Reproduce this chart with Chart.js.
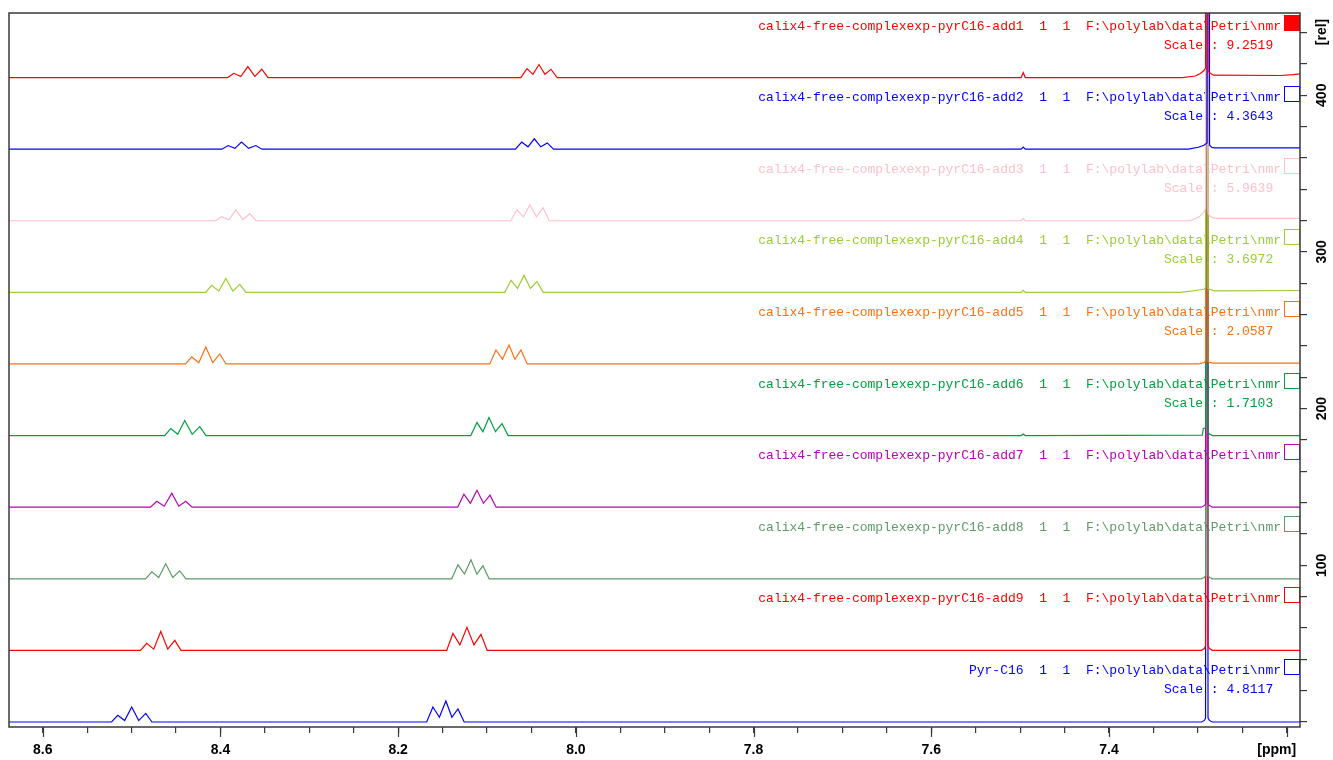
<!DOCTYPE html>
<html>
<head>
<meta charset="utf-8">
<script src="https://cdn.jsdelivr.net/npm/chart.js@4.4.0/dist/chart.umd.min.js"></script>
<style>
  html, body { margin: 0; padding: 0; background: #fff; }
  canvas { display: block; }
</style>
</head>
<body>
<canvas id="nmr" width="1333" height="760"></canvas>
<script>
// stacked 1H spectra, top to bottom. points are [ppm, rel]
const names = [
  'calix4-free-complexexp-pyrC16-add1', 'calix4-free-complexexp-pyrC16-add2',
  'calix4-free-complexexp-pyrC16-add3', 'calix4-free-complexexp-pyrC16-add4',
  'calix4-free-complexexp-pyrC16-add5', 'calix4-free-complexexp-pyrC16-add6',
  'calix4-free-complexexp-pyrC16-add7', 'calix4-free-complexexp-pyrC16-add8',
  'calix4-free-complexexp-pyrC16-add9', 'Pyr-C16'
];
const scaleText = ['9.2519', '4.3643', '5.9639', '3.6972', '2.0587', '1.7103', '', '', '', '4.8117'];
const colors = ['#ff0000', '#0000ff', '#ffc0cb', '#9acd32', '#ff7010', '#00a040', '#b800b8', '#5f9a6a', '#ff0000', '#0000ff'];

const add1 = [
  [8.65, 0],
  [8.3920, 0], [8.3850, 2.7], [8.3771, 0.6], [8.3692, 7.0], [8.3613, 0.8], [8.3535, 5.3], [8.3465, 0],
  [8.0620, 0], [8.0550, 5.7], [8.0483, 2.0], [8.0415, 8.3], [8.0348, 2.0], [8.0280, 5.3], [8.0210, 0],
  [7.4988, 0], [7.4965, 3.2], [7.4942, 0],
  [7.3174, 0], [7.3028, 1.0], [7.2971, 2.6], [7.2932, 4.5], [7.2913, 6.0], [7.2898, 1000], [7.2885, 4.0],
  [7.2865, 3.0], [7.2825, 1.5], [7.2071, 1.3], [7.1924, 1.9], [7.18, 2.6]
];
const add2 = [
  [8.65, 0],
  [8.3984, 0], [8.3914, 2.3], [8.3838, 0.5], [8.3763, 4.5], [8.3683, 0.5], [8.3602, 2.3], [8.3532, 0],
  [8.0680, 0], [8.0610, 4.5], [8.0539, 1.5], [8.0468, 6.6], [8.0395, 1.5], [8.0322, 4.0], [8.0252, 0],
  [7.4988, 0], [7.4965, 1.3], [7.4942, 0],
  [7.3107, 0], [7.2994, 1.2], [7.2932, 2.5], [7.2896, 4.0], [7.2881, 1000], [7.2868, 2.5],
  [7.2845, 1.2], [7.2814, 0.8], [7.18, 0.8]
];
const add3 = [
  [8.65, 0],
  [8.4055, 0], [8.3985, 2.6], [8.3906, 0.6], [8.3827, 7.0], [8.3748, 0.8], [8.3670, 4.5], [8.3600, 0],
  [8.0733, 0], [8.0663, 7.0], [8.0590, 2.5], [8.0517, 10.2], [8.0444, 2.5], [8.0370, 8.3], [8.0300, 0],
  [7.4988, 0], [7.4965, 1.5], [7.4942, 0],
  [7.3084, 0], [7.2983, 2.5], [7.2926, 6.0], [7.2913, 8.0], [7.2898, 1000], [7.2885, 5.0],
  [7.2865, 3.0], [7.2814, 1.5], [7.18, 1.5]
];
const add4 = [
  [8.65, 0],
  [8.4168, 0], [8.4098, 4.5], [8.4019, 0.8], [8.3940, 8.9], [8.3861, 0.8], [8.3782, 5.1], [8.3712, 0],
  [8.0800, 0], [8.0730, 7.7], [8.0657, 2.5], [8.0584, 10.8], [8.0511, 2.5], [8.0438, 7.0], [8.0368, 0],
  [7.4988, 0], [7.4965, 1.3], [7.4942, 0],
  [7.3197, 0], [7.3028, 1.2], [7.2932, 2.0], [7.2913, 3.0], [7.2898, 1000], [7.2885, 2.5],
  [7.2865, 1.8], [7.2814, 1.0], [7.18, 1.2]
];
const add5 = [
  [8.65, 0],
  [8.4393, 0], [8.4323, 4.5], [8.4244, 0.8], [8.4165, 10.8], [8.4087, 0.8], [8.4008, 6.4], [8.3938, 0],
  [8.0969, 0], [8.0899, 8.9], [8.0826, 3.0], [8.0753, 12.1], [8.0686, 3.0], [8.0618, 8.9], [8.0548, 0],
  [7.2994, 0], [7.2926, 1.0], [7.2913, 2.0], [7.2898, 1000], [7.2885, 1.8], [7.2870, 1.0],
  [7.2825, 0.5], [7.18, 0.6]
];
const add6 = [
  [8.65, 0],
  [8.4629, 0], [8.4559, 4.5], [8.4481, 0.8], [8.4402, 9.6], [8.4318, 0.8], [8.4233, 5.7], [8.4163, 0],
  [8.1183, 0], [8.1113, 8.3], [8.1046, 2.5], [8.0978, 11.5], [8.0905, 2.5], [8.0832, 7.7], [8.0762, 0],
  [7.4988, 0], [7.4965, 1.0], [7.4942, 0],
  [7.2949, 0.3], [7.2938, 4.5], [7.2913, 5.0], [7.2898, 1000], [7.2885, 2.0], [7.2870, 1.0],
  [7.2836, 0], [7.18, 0]
];
const add7 = [
  [8.65, 0],
  [8.4787, 0], [8.4717, 3.8], [8.4633, 0.6], [8.4548, 8.9], [8.4469, 0.6], [8.4390, 3.8], [8.4320, 0],
  [8.1330, 0], [8.1260, 8.3], [8.1187, 2.5], [8.1113, 10.8], [8.1040, 2.5], [8.0967, 7.7], [8.0897, 0],
  [7.2960, 0], [7.2926, 1.0], [7.2913, 2.0], [7.2898, 1000], [7.2885, 2.0], [7.2870, 1.0], [7.2836, 0], [7.18, 0]
];
const add8 = [
  [8.65, 0],
  [8.4843, 0], [8.4773, 4.5], [8.4695, 0.8], [8.4616, 9.6], [8.4537, 0.8], [8.4458, 5.1], [8.4388, 0],
  [8.1397, 0], [8.1327, 8.9], [8.1254, 3.0], [8.1181, 12.1], [8.1114, 3.0], [8.1046, 8.3], [8.0976, 0],
  [7.2960, 0], [7.2926, 1.0], [7.2913, 2.0], [7.2898, 1000], [7.2885, 2.0], [7.2870, 1.0], [7.2836, 0], [7.18, 0]
];
const add9 = [
  [8.65, 0],
  [8.4900, 0], [8.4830, 4.5], [8.4751, 0.8], [8.4672, 12.1], [8.4593, 0.8], [8.4514, 6.4], [8.4444, 0],
  [8.1454, 0], [8.1384, 10.8], [8.1305, 3.5], [8.1226, 14.7], [8.1147, 3.5], [8.1068, 10.2], [8.0998, 0],
  [7.2960, 0], [7.2926, 1.2], [7.2913, 3.0], [7.2898, 1000], [7.2885, 3.0], [7.2870, 1.2], [7.2836, 0], [7.18, 0]
];
const pyrC16 = [
  [8.65, 0],
  [8.5226, 0], [8.5156, 4.3], [8.5078, 0.9], [8.4999, 9.6], [8.4920, 0.9], [8.4841, 5.5], [8.4771, 0],
  [8.1679, 0], [8.1609, 9.6], [8.1536, 3.0], [8.1463, 13.4], [8.1395, 3.0], [8.1327, 8.3], [8.1257, 0],
  [7.2960, 0], [7.2926, 1.0], [7.2913, 2.5], [7.2898, 1000], [7.2885, 2.5], [7.2870, 1.0], [7.2836, 0], [7.18, 0]
];
const spectra = [add1, add2, add3, add4, add5, add6, add7, add8, add9, pyrC16];

const ppmRange = [7.185, 8.638];
const relRange = [-3.2, 452.5];
const relLabels = [100, 200, 300, 400];
const stackStep = 45.7; // vertical offset between stacked spectra

const n = spectra.length;
const baseOf = i => (n - 1 - i) * stackStep;

const datasets = spectra.map((pts, i) => ({
  label: names[i],
  data: pts.map(([x, y]) => ({ x, y: y + baseOf(i) })),
  borderColor: colors[i],
  borderWidth: 1.2,
  pointRadius: 0,
  showLine: true,
  tension: 0
}));

const isMajor = v => Math.abs(v * 5 - Math.round(v * 5)) < 1e-6;

const decor = {
  id: 'decor',
  beforeDatasetsDraw(chart) {
    const { ctx, scales: { y } } = chart;
    ctx.save();
    ctx.font = '13px "Liberation Mono", "DejaVu Sans Mono", monospace';
    ctx.textBaseline = 'middle';
    names.forEach((name, i) => {
      const b = Math.round(y.getPixelForValue(baseOf(i)));
      ctx.fillStyle = colors[i];
      ctx.strokeStyle = colors[i];
      ctx.textAlign = 'right';
      ctx.fillText(name + '  1  1  F:\\polylab\\data\\Petri\\nmr', 1281, b - 51);
      if (scaleText[i]) {
        ctx.textAlign = 'left';
        ctx.fillText('Scale : ' + scaleText[i], 1164, b - 32);
      }
      ctx.lineWidth = 1;
      if (i === 0) ctx.fillRect(1284, b - 63, 16, 16);
      else ctx.strokeRect(1284.5, b - 62.5, 15, 15);
    });
    ctx.restore();
  },
  afterDraw(chart) {
    const { ctx, chartArea: a, scales: { x, y } } = chart;
    ctx.save();
    ctx.strokeStyle = '#3a3a3a';
    ctx.lineWidth = 1.5;
    ctx.strokeRect(a.left, a.top, a.right - a.left, a.bottom - a.top);
    // longer marks on the labelled ppm ticks
    ctx.lineWidth = 1.2;
    ctx.beginPath();
    x.ticks.forEach(t => {
      if (!isMajor(t.value)) return;
      const px = Math.round(x.getPixelForValue(t.value)) + 0.5;
      ctx.moveTo(px, a.bottom);
      ctx.lineTo(px, a.bottom + 10);
    });
    ctx.stroke();
    ctx.fillStyle = '#000';
    ctx.font = 'bold 14px "Liberation Sans", Arial, sans-serif';
    ctx.textAlign = 'center';
    ctx.textBaseline = 'middle';
    ctx.fillText('[ppm]', x.getPixelForValue(7.2) - 10, 750);
    relLabels.forEach(v => {
      ctx.save();
      ctx.translate(1322, y.getPixelForValue(v));
      ctx.rotate(-Math.PI / 2);
      ctx.fillText(String(v), 0, 0);
      ctx.restore();
    });
    ctx.save();
    ctx.translate(1322, 32);
    ctx.rotate(-Math.PI / 2);
    ctx.fillText('[rel]', 0, 0);
    ctx.restore();
    ctx.restore();
  }
};

new Chart(document.getElementById('nmr'), {
  type: 'scatter',
  data: { datasets },
  plugins: [decor],
  options: {
    responsive: false,
    devicePixelRatio: 1,
    animation: false,
    events: [],
    layout: { padding: { left: 9, top: 13, right: 0, bottom: 0 } },
    plugins: { legend: { display: false }, tooltip: { enabled: false } },
    scales: {
      x: {
        type: 'linear',
        reverse: true,
        min: ppmRange[0],
        max: ppmRange[1],
        afterFit: s => { s.height = 33; },
        border: { display: false },
        grid: { drawOnChartArea: false, tickLength: 6, tickColor: '#3a3a3a', lineWidth: 1.2 },
        ticks: {
          stepSize: 0.05,
          includeBounds: false,
          autoSkip: false,
          maxRotation: 0,
          padding: 9,
          color: '#000',
          font: { family: '"Liberation Sans", Arial, sans-serif', size: 14, weight: 'bold' },
          callback: v => (isMajor(v) && Math.round(v * 5) !== 36) ? v.toFixed(1) : ''
        }
      },
      y: {
        type: 'linear',
        position: 'right',
        min: relRange[0],
        max: relRange[1],
        afterFit: s => { s.width = 33; },
        border: { display: false },
        grid: { drawOnChartArea: false, tickLength: 7, tickColor: '#3a3a3a', lineWidth: 1.2 },
        ticks: { stepSize: 20, includeBounds: false, display: false }
      }
    }
  }
});
</script>
</body>
</html>
